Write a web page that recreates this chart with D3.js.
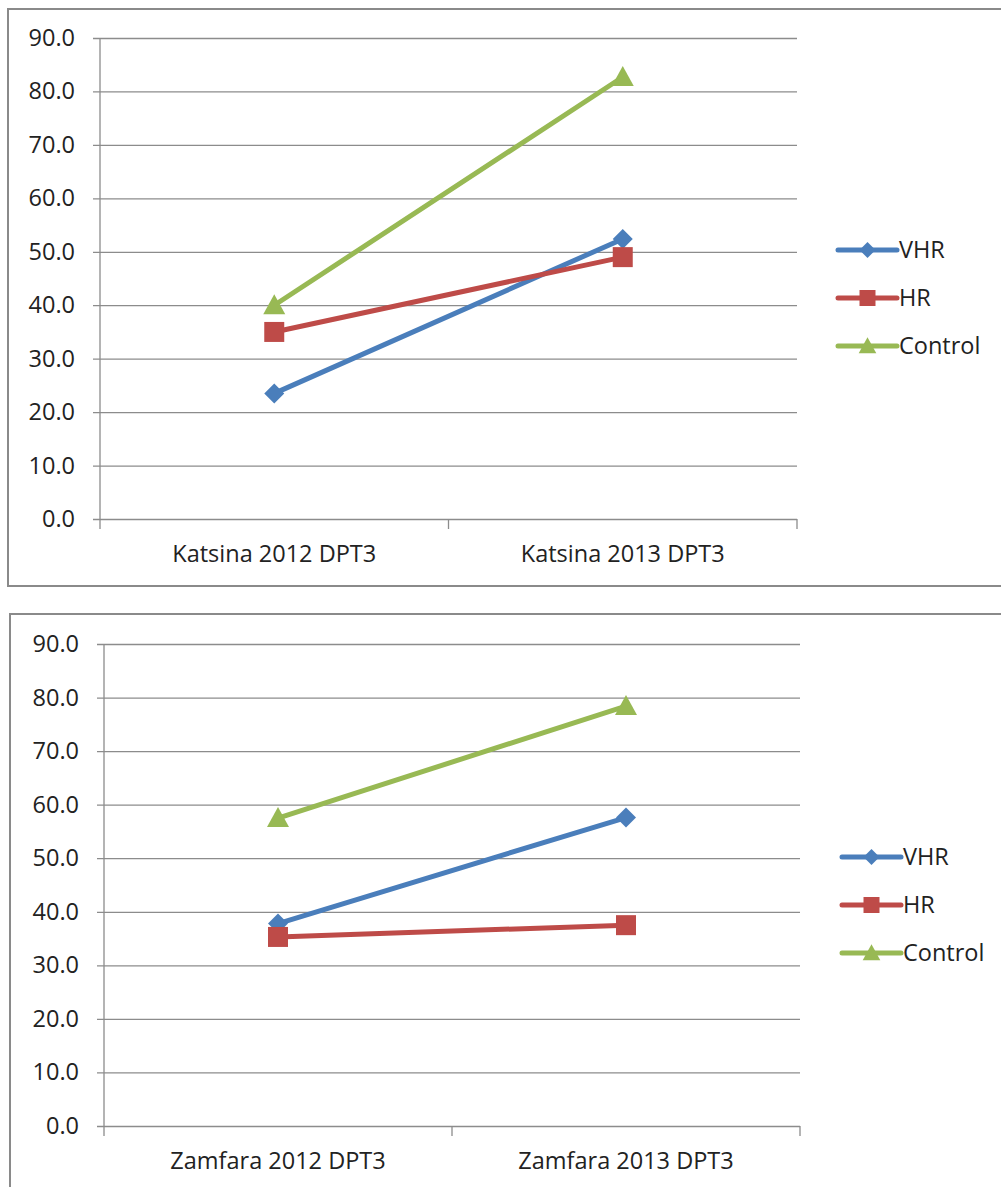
<!DOCTYPE html>
<html>
<head>
<meta charset="utf-8">
<script src="https://cdn.jsdelivr.net/npm/d3@7"></script>
<style>
  body { margin: 0; background: #fff; }
  svg text { font-family: "Open Sans", Lato, sans-serif; fill: #222; }
</style>
</head>
<body>
<svg width="1001" height="1187"></svg>
<script>
'use strict';

// --- data ---
var seriesNames = ["VHR", "HR", "Control"];
var seriesColors = ["#4a7ebb", "#be4b48", "#98b954"];
var seriesShapes = ["diamond", "square", "triangle"];

var katsinaCats = ["Katsina 2012 DPT3", "Katsina 2013 DPT3"];
var katsinaVHR = [23.5, 52.4];
var katsinaHR = [35.0, 49.0];
var katsinaControl = [40.0, 82.7];

var zamfaraCats = ["Zamfara 2012 DPT3", "Zamfara 2013 DPT3"];
var zamfaraVHR = [37.8, 57.6];
var zamfaraHR = [35.3, 37.5];
var zamfaraControl = [57.5, 78.4];

var yTicks = d3.range(0, 91, 10);

const FONT_SIZE = 23.5;

var svg = d3.select("svg");

drawPanel({
    box: {x: 8, y: 9, w: 1010, h: 577},
    plot: {left: 100, right: 797, top: 38, bottom: 519},
    legend: {x: 838, y: 250},
    cats: katsinaCats,
    values: [katsinaVHR, katsinaHR, katsinaControl]
});

drawPanel({
    box: {x: 10, y: 614, w: 1010, h: 600},
    plot: {left: 104, right: 800, top: 644, bottom: 1126},
    legend: {x: 842, y: 857},
    cats: zamfaraCats,
    values: [zamfaraVHR, zamfaraHR, zamfaraControl]
});

function markerPath(shape) {
    if (shape === "diamond") {
        return "M0,-10L10,0L0,10L-10,0Z";
    }
    if (shape === "square") {
        return "M-10,-10H10V10H-10Z";
    }
    return "M0,-11L11,9H-11Z";
}

function drawPanel(cfg) {
    var g = svg.append("g");
    var p = cfg.plot;

    g.append("rect")
        .attr("x", cfg.box.x)
        .attr("y", cfg.box.y)
        .attr("width", cfg.box.w)
        .attr("height", cfg.box.h)
        .attr("fill", "none")
        .attr("stroke", "#8a8a8a")
        .attr("stroke-width", 2);

    var x = d3.scaleBand()
        .domain(cfg.cats)
        .range([p.left, p.right]);

    var y = d3.scaleLinear()
        .domain([0, 90])
        .range([p.bottom, p.top]);

    // gridlines + y ticks
    var yAxis = d3.axisLeft(y)
        .tickValues(yTicks)
        .tickSize(-(p.right - p.left))
        .tickSizeOuter(0)
        .tickPadding(25)
        .tickFormat(d3.format(".1f"));

    var ya = g.append("g")
        .attr("transform", "translate(" + p.left + ",0)")
        .call(yAxis);
    ya.select(".domain").remove();
    ya.selectAll(".tick line")
        .attr("x1", -7)
        .attr("stroke", "#8c8c8c")
        .attr("stroke-width", 1.3);
    ya.selectAll(".tick text")
        .attr("font-size", FONT_SIZE)
        .attr("fill", "#222");

    // y axis line
    g.append("line")
        .attr("x1", p.left).attr("x2", p.left)
        .attr("y1", p.top).attr("y2", p.bottom + 10)
        .attr("stroke", "#8c8c8c")
        .attr("stroke-width", 1.3);

    // x axis, category labels under each band
    var xa = g.append("g")
        .attr("transform", "translate(0," + p.bottom + ")")
        .call(d3.axisBottom(x).tickSize(0).tickPadding(26));
    xa.select(".domain").remove();
    xa.selectAll(".tick text")
        .attr("font-size", FONT_SIZE)
        .attr("fill", "#222");

    // separators between categories
    var bounds = [p.left + x.bandwidth(), p.right];
    g.selectAll(".xsep")
        .data(bounds)
        .enter()
        .append("line")
        .attr("x1", function (d) { return d; })
        .attr("x2", function (d) { return d; })
        .attr("y1", p.bottom)
        .attr("y2", p.bottom + 10)
        .attr("stroke", "#8c8c8c")
        .attr("stroke-width", 1.3);

    var line = d3.line()
        .x(function (d, i) { return x(cfg.cats[i]) + x.bandwidth() / 2; })
        .y(function (d) { return y(d); });

    cfg.values.forEach(function (vals, s) {
        g.append("path")
            .datum(vals)
            .attr("d", line)
            .attr("fill", "none")
            .attr("stroke", seriesColors[s])
            .attr("stroke-width", 5)
            .attr("stroke-linecap", "round");

        g.selectAll(".m" + s)
            .data(vals)
            .enter()
            .append("path")
            .attr("class", "m" + s)
            .attr("d", markerPath(seriesShapes[s]))
            .attr("transform", function (d, i) {
                return "translate(" + (x(cfg.cats[i]) + x.bandwidth() / 2) + "," + y(d) + ")";
            })
            .attr("fill", seriesColors[s]);
    });

    // legend
    var lg = g.append("g")
        .attr("transform", "translate(" + cfg.legend.x + "," + cfg.legend.y + ")");
    seriesNames.forEach(function (name, s) {
        var row = lg.append("g")
            .attr("transform", "translate(0," + (s * 48) + ")");
        row.append("line")
            .attr("x1", 0).attr("x2", 59)
            .attr("stroke", seriesColors[s])
            .attr("stroke-width", 5)
            .attr("stroke-linecap", "round");
        row.append("path")
            .attr("d", markerPath(seriesShapes[s]))
            .attr("transform", "translate(29.5,0) scale(0.8)")
            .attr("fill", seriesColors[s]);
        row.append("text")
            .attr("x", 61)
            .attr("dy", "0.35em")
            .attr("font-size", FONT_SIZE)
            .text(name);
    });
}
</script>
</body>
</html>
